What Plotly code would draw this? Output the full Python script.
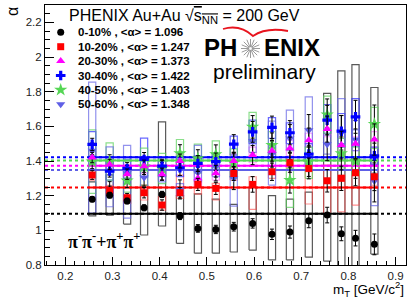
import math
import plotly.graph_objects as go

# ---------------- data ----------------
mT = [0.257, 0.294, 0.331, 0.367, 0.405, 0.443, 0.481, 0.519, 0.557,
      0.597, 0.638, 0.676, 0.716, 0.755, 0.785, 0.815, 0.855]

centralities = ["0-10%", "10-20%", "20-30%", "30-40%", "40-50%", "50-60%"]
mean_alpha = [1.096, 1.247, 1.373, 1.422, 1.403, 1.348]

alpha_0_10 = [1.180, 1.203, 1.169, 1.130, 1.207, 1.082, 1.011, 1.005, 1.021,
              1.040, 0.977, 0.990, 1.055, 1.088, 0.980, 0.955, 0.919]
stat_0_10 = [0.015, 0.016, 0.016, 0.017, 0.018, 0.020, 0.022, 0.024, 0.025,
             0.027, 0.030, 0.035, 0.040, 0.045, 0.040, 0.045, 0.060]
sysl_0_10 = [1.083, 1.088, 1.036, 0.973, 1.025, 0.925, 0.868, 0.868, 0.875,
             0.886, 0.829, 0.829, 0.845, 0.822, 0.790, 0.790, 0.863]
sysh_0_10 = [1.280, 1.320, 1.300, 1.260, 1.626, 1.200, 1.210, 1.180, 1.150,
             1.250, 1.200, 1.180, 1.220, 1.790, 1.920, 1.956, 1.824]

alpha_10_20 = [1.319, 1.230, 1.188, 1.217, 1.146, 1.217, 1.265, 1.242, 1.328,
               1.265, 1.338, 1.390, 1.357, 1.286, 1.300, 1.332, 1.309]
stat_10_20 = [0.025, 0.025, 0.025, 0.030, 0.030, 0.030, 0.035, 0.035, 0.040,
              0.045, 0.050, 0.055, 0.060, 0.065, 0.070, 0.075, 0.080]
sysl_10_20 = [1.290, 1.200, 1.156, 1.175, 1.117, 1.184, 1.209, 1.175, 1.290,
              1.121, 1.300, 1.360, 1.152, 1.098, 1.107, 1.146, 1.260]
sysh_10_20 = [1.350, 1.260, 1.203, 1.261, 1.194, 1.319, 1.290, 1.271, 1.360,
              1.309, 1.370, 1.420, 1.338, 1.376, 1.319, 1.376, 1.350]

alpha_20_30 = [1.420, 1.380, 1.324, 1.370, 1.324, 1.400, 1.300, 1.330, 1.400,
               1.434, 1.459, 1.473, 1.520, 1.584, 1.492, 1.500, 1.524]
stat_20_30 = [0.030, 0.030, 0.030, 0.035, 0.035, 0.040, 0.040, 0.045, 0.050,
              0.055, 0.060, 0.065, 0.070, 0.075, 0.080, 0.085, 0.090]
sysl_20_30 = [1.380, 1.340, 1.290, 1.330, 1.290, 1.360, 1.260, 1.290, 1.360,
              1.390, 1.420, 1.430, 1.480, 1.540, 1.450, 1.460, 1.480]
sysh_20_30 = [1.460, 1.420, 1.360, 1.410, 1.360, 1.440, 1.340, 1.370, 1.440,
              1.480, 1.500, 1.520, 1.560, 1.630, 1.530, 1.540, 1.570]

alpha_30_40 = [1.496, 1.342, 1.357, 1.409, 1.370, 1.361, 1.386, 1.396, 1.497,
               1.568, 1.594, 1.563, 1.440, 1.636, 1.572, 1.655, 1.430]
stat_30_40 = [0.035, 0.035, 0.035, 0.040, 0.040, 0.045, 0.045, 0.050, 0.055,
              0.060, 0.065, 0.070, 0.080, 0.085, 0.090, 0.095, 0.100]
sysl_30_40 = [1.430, 1.290, 1.300, 1.307, 1.310, 1.310, 1.340, 1.350, 1.434,
              1.500, 1.530, 1.500, 1.380, 1.560, 1.500, 1.486, 1.380]
sysh_30_40 = [1.570, 1.400, 1.410, 1.532, 1.420, 1.410, 1.430, 1.440, 1.543,
              1.636, 1.650, 1.620, 1.500, 1.726, 1.674, 1.760, 1.480]

alpha_40_50 = [1.396, 1.396, 1.286, 1.367, 1.357, 1.444, 1.415, 1.438, 1.390,
               1.597, 1.492, 1.290, 1.396, 1.668, 1.444, 1.400, 1.613]
stat_40_50 = [0.040, 0.040, 0.040, 0.045, 0.045, 0.050, 0.050, 0.055, 0.060,
              0.065, 0.070, 0.075, 0.085, 0.090, 0.095, 0.100, 0.110]
sysl_40_50 = [1.213, 1.290, 1.220, 1.260, 1.270, 1.360, 1.330, 1.360, 1.300,
              1.510, 1.410, 1.133, 1.300, 1.560, 1.360, 1.320, 1.472]
sysh_40_50 = [1.580, 1.505, 1.350, 1.474, 1.444, 1.524, 1.497, 1.516, 1.470,
              1.680, 1.570, 1.357, 1.480, 1.774, 1.530, 1.480, 1.709]

alpha_50_60 = [1.459, 1.236, 1.330, 1.305, 1.340, 1.236, 1.332, 1.367, 1.300,
               1.516, 1.440, 1.530, 1.578, 1.497, 1.563, 1.524, 1.284]
stat_50_60 = [0.045, 0.045, 0.045, 0.050, 0.050, 0.055, 0.055, 0.060, 0.065,
              0.070, 0.075, 0.080, 0.090, 0.095, 0.100, 0.110, 0.120]
sysl_50_60 = [1.100, 1.136, 1.070, 1.250, 1.280, 1.200, 1.280, 1.310, 1.140,
              1.450, 1.261, 1.460, 1.500, 1.440, 1.480, 1.460, 1.142]
sysh_50_60 = [1.855, 1.482, 1.490, 1.360, 1.400, 1.270, 1.490, 1.420, 1.350,
              1.580, 1.630, 1.693, 1.770, 1.550, 1.760, 1.580, 1.417]

x_tickvals = [0.2, 0.3, 0.4, 0.5, 0.6, 0.7, 0.8, 0.9]
x_ticktext = ["0.2", "0.3", "0.4", "0.5", "0.6", "0.7", "0.8", "0.9"]
y_tickvals = [0.8, 1.0, 1.2, 1.4, 1.6, 1.8, 2.0, 2.2]
y_ticktext = ["0.8", "1", "1.2", "1.4", "1.6", "1.8", "2", "2.2"]

# ---------------- styling ----------------
W, H = 411, 298
ML, MR, MT, MB = 45, 5, 5, 33
X_RANGE = [0.157, 0.922]
Y_RANGE = [0.8, 2.3]
BOX_HW = 0.0076

series = [
    dict(y=alpha_0_10, e=stat_0_10, lo=sysl_0_10, hi=sysh_0_10,
         color="#000000", box="rgba(60,60,60,0.85)", symbol="circle", size=7),
    dict(y=alpha_10_20, e=stat_10_20, lo=sysl_10_20, hi=sysh_10_20,
         color="#ff0000", box="rgba(255,70,70,0.6)", symbol="square", size=7),
    dict(y=alpha_20_30, e=stat_20_30, lo=sysl_20_30, hi=sysh_20_30,
         color="#ff00ff", box="rgba(255,80,255,0.55)", symbol="triangle-up", size=8),
    dict(y=alpha_30_40, e=stat_30_40, lo=sysl_30_40, hi=sysh_30_40,
         color="#0000ff", box="rgba(40,40,255,0.7)", symbol="cross", size=8),
    dict(y=alpha_40_50, e=stat_40_50, lo=sysl_40_50, hi=sysh_40_50,
         color="#55d655", box="rgba(90,210,90,0.7)", symbol="star", size=10),
    dict(y=alpha_50_60, e=stat_50_60, lo=sysl_50_60, hi=sysh_50_60,
         color="#5f5fe6", box="rgba(100,100,230,0.7)", symbol="triangle-down", size=8),
]

fig = go.Figure()

# systematic boxes
for s in series:
    bx, by = [], []
    for x, lo, hi in zip(mT, s["lo"], s["hi"]):
        bx += [x - BOX_HW, x + BOX_HW, x + BOX_HW, x - BOX_HW, x - BOX_HW, None]
        by += [lo, lo, hi, hi, lo, None]
    fig.add_trace(go.Scatter(x=bx, y=by, mode="lines",
                             line=dict(color=s["box"], width=1.2),
                             hoverinfo="skip", showlegend=False))

# mean lines: dotted across axis, solid across data range
x_lo = mT[0] - 0.008
x_hi = mT[-1] + 0.008
for s, m in zip(series, mean_alpha):
    fig.add_trace(go.Scatter(x=X_RANGE, y=[m, m], mode="lines",
                             line=dict(color=s["color"], width=2, dash="dot"),
                             hoverinfo="skip", showlegend=False))
for s, m in zip(series, mean_alpha):
    fig.add_trace(go.Scatter(x=[x_lo, x_hi], y=[m, m], mode="lines",
                             line=dict(color=s["color"], width=2),
                             hoverinfo="skip", showlegend=False))

# points with statistical errors
for s in series[::-1]:
    fig.add_trace(go.Scatter(
        x=mT, y=s["y"], mode="markers",
        marker=dict(symbol=s["symbol"], size=s["size"], color=s["color"],
                    line=dict(width=0)),
        error_y=dict(type="data", array=s["e"], color="#000000",
                     thickness=1, width=2),
        showlegend=False))


def paper(px, py):
    return (px - ML) / (W - ML - MR), (H - MB - py) / (H - MT - MB)


def note(px, py, text, size, xanchor="left", family="Liberation Sans", **kw):
    tx, ty = paper(px, py)
    fig.add_annotation(x=tx, y=ty, xref="paper", yref="paper",
                       xanchor=xanchor, yanchor="middle", showarrow=False,
                       text=text, font=dict(family=family, size=size,
                                            color="#000"), **kw)


# legend (markers on an overlay axis spanning the plot area)
LEG_X_MARK, LEG_X_TEXT, LEG_Y0, LEG_DY = 60.7, 76, 32.3, 14.4
for i, (s, c, m) in enumerate(zip(series, centralities, mean_alpha)):
    px_, py_ = paper(LEG_X_MARK, LEG_Y0 + i * LEG_DY)
    fig.add_trace(go.Scatter(x=[px_], y=[py_], xaxis="x2", yaxis="y2",
                             mode="markers",
                             marker=dict(symbol=s["symbol"], size=s["size"],
                                         color=s["color"], line=dict(width=0)),
                             hoverinfo="skip", showlegend=False))
    note(LEG_X_TEXT, LEG_Y0 + i * LEG_DY,
         "<b>%s , &lt;α&gt; = %.3f</b>" % (c, m), 11.5)

# title text
note(67, 17, "PHENIX Au+Au √<span style='text-decoration:overline'>s<sub>NN</sub></span> = 200 GeV", 16)

# PHENIX logo
note(239, 48, "<b>PH</b>", 24, xanchor="right")
note(262, 48, "<b>ENIX</b>", 24, xanchor="left")
note(264, 71, "preliminary", 21, xanchor="center")
# sunburst replacing the O
cx, cy, r_in, r_out = 250.5, 48.5, 1.5, 9.5
burst = ""
for k in range(16):
    a = 2 * math.pi * k / 16
    x1, y1 = paper(cx + r_in * math.cos(a), cy + r_in * math.sin(a))
    x2, y2 = paper(cx + r_out * math.cos(a), cy + r_out * math.sin(a))
    burst += "M %f %f L %f %f " % (x1, y1, x2, y2)
fig.add_shape(type="path", path=burst, xref="paper", yref="paper",
              line=dict(color="#9a9a9a", width=1))
# red swoosh of the logo
pts = [paper(223, 29), paper(240, 24), paper(253, 36),
       paper(266, 27), paper(288, 31)]
path = "M %f %f Q %f %f %f %f Q %f %f %f %f" % (
    pts[0][0], pts[0][1], pts[1][0], pts[1][1], pts[2][0], pts[2][1],
    pts[3][0], pts[3][1], pts[4][0], pts[4][1])
fig.add_shape(type="path", path=path, xref="paper", yref="paper",
              line=dict(color="#e8141e", width=1.8))

# pion label
note(66, 240, "<b>π<sup>-</sup>π<sup>-</sup>+π<sup>+</sup>π<sup>+</sup></b>", 18,
     family="Liberation Serif")

# axis titles
note(406, 289, "m<sub>T</sub> [GeV/c<sup>2</sup>]", 13.5, xanchor="right")
note(12, 12, "α", 16, xanchor="center", textangle=-90)

axis_common = dict(showgrid=False, zeroline=False, showline=True,
                   linecolor="#000", linewidth=1, mirror=True,
                   ticks="inside", tickcolor="#000",
                   tickfont=dict(family="Liberation Sans", size=11.5, color="#222"))
fig.update_layout(
    width=W, height=H,
    margin=dict(l=ML, r=MR, t=MT, b=MB),
    paper_bgcolor="white", plot_bgcolor="white",
    showlegend=False,
    xaxis=dict(range=X_RANGE, tickvals=x_tickvals, ticktext=x_ticktext,
               ticklen=8, minor=dict(dtick=0.02, ticklen=4, ticks="inside",
                                     tickcolor="#000"),
               **axis_common),
    yaxis=dict(range=Y_RANGE, tickvals=y_tickvals, ticktext=y_ticktext,
               ticklen=9, minor=dict(dtick=0.05, ticklen=5, ticks="inside",
                                     tickcolor="#000"),
               **axis_common),
    xaxis2=dict(range=[0, 1], overlaying="x", visible=False),
    yaxis2=dict(range=[0, 1], overlaying="y", visible=False),
)

fig.write_html("out.html", config={"displayModeBar": False},
               post_script="document.body.style.margin='0';")
